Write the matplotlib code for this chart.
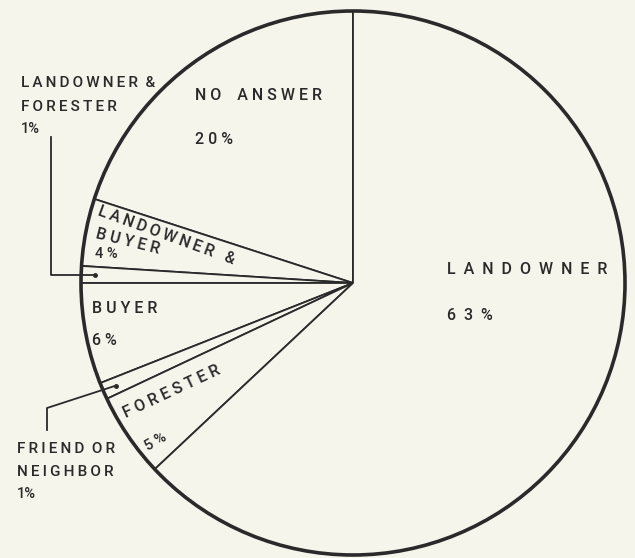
import numpy as np
import matplotlib.pyplot as plt

# slices, counter-clockwise from 12 o'clock
labels = ["NO ANSWER", "LANDOWNER & BUYER", "LANDOWNER & FORESTER", "BUYER",
          "FRIEND OR NEIGHBOR", "FORESTER", "LANDOWNER"]
shares = [20, 4, 1, 6, 1, 5, 63]

bg = "#f5f5ec"
ink = "#2a2a2a"
W, H = 635, 558

fig = plt.figure(figsize=(W / 100, H / 100), dpi=100, facecolor=bg)
ax = fig.add_axes([0, 0, 1, 1])
ax.set_facecolor(bg)

cx, cy, R = 353, H - 283, 272
wedges, _ = ax.pie(shares, startangle=90, counterclock=True, center=(cx, cy), radius=R,
                   wedgeprops=dict(facecolor=bg, edgecolor=ink, linewidth=1.3))
# heavier outline round the whole pie
ax.add_patch(plt.Circle((cx, cy), R, fill=False, edgecolor=ink, lw=2.6))
ax.set_xlim(0, W)
ax.set_ylim(0, H)
ax.set_aspect("equal")
ax.axis("off")


def spaced(s, sep=" "):
    # old typewriter look: letters pulled apart
    return sep.join(s)


def label(x, y, s, rot=0, size=11.5):
    # x, y measured from the top-left, like the scan
    ax.text(x, H - y, s, rotation=rot, rotation_mode="anchor", ha="left",
            va="baseline", fontsize=size, color=ink, family=["Roboto", "DejaVu Sans"],
            fontweight="medium")


def mid_point(w, frac=0.95):
    a = np.deg2rad((w.theta1 + w.theta2) / 2)
    return cx + frac * R * np.cos(a), cy + frac * R * np.sin(a)


thin = "\u2009"

# inside labels
label(195, 100, "N O    A N S W E R")
label(195, 144, "2 0 %")
label(447, 274, spaced("LANDOWNER", "  "))
label(447, 320, spaced("63%", "  "))
label(97, 215, spaced("LANDOWNER", thin) + "   &", rot=-20)
label(95, 238, spaced("BUYER", " "), rot=-14)
label(95, 258, spaced("4%", " "), size=10.5)
label(92, 313, spaced("BUYER", " "))
label(92, 345, "6 %")
label(126, 418, spaced("FORESTER", " "), rot=25)
label(148, 451, "5 %", rot=30, size=10.5)

# outside labels with leader lines
label(21, 87, spaced("LANDOWNER", thin) + "  &", size=11)
label(21, 111, spaced("FORESTER", thin), size=11)
label(21, 133, "1%", size=10.5)
dx, dy = mid_point(wedges[2])
ax.plot([51, 51, dx], [H - 137, dy, dy], color=ink, lw=1.3)
ax.plot(dx, dy, "o", ms=2.5, color=ink)

label(17, 453, spaced("FRIEND", thin) + "  " + spaced("OR", thin), size=11)
label(17, 476, spaced("NEIGHBOR", thin), size=11)
label(17, 498, "1%", size=10.5)
dx, dy = mid_point(wedges[4])
ax.plot([47, 47, dx], [H - 430, H - 408, dy], color=ink, lw=1.3)
ax.plot(dx, dy, "o", ms=2.5, color=ink)

fig.savefig("out.png", dpi=100, facecolor=bg)
